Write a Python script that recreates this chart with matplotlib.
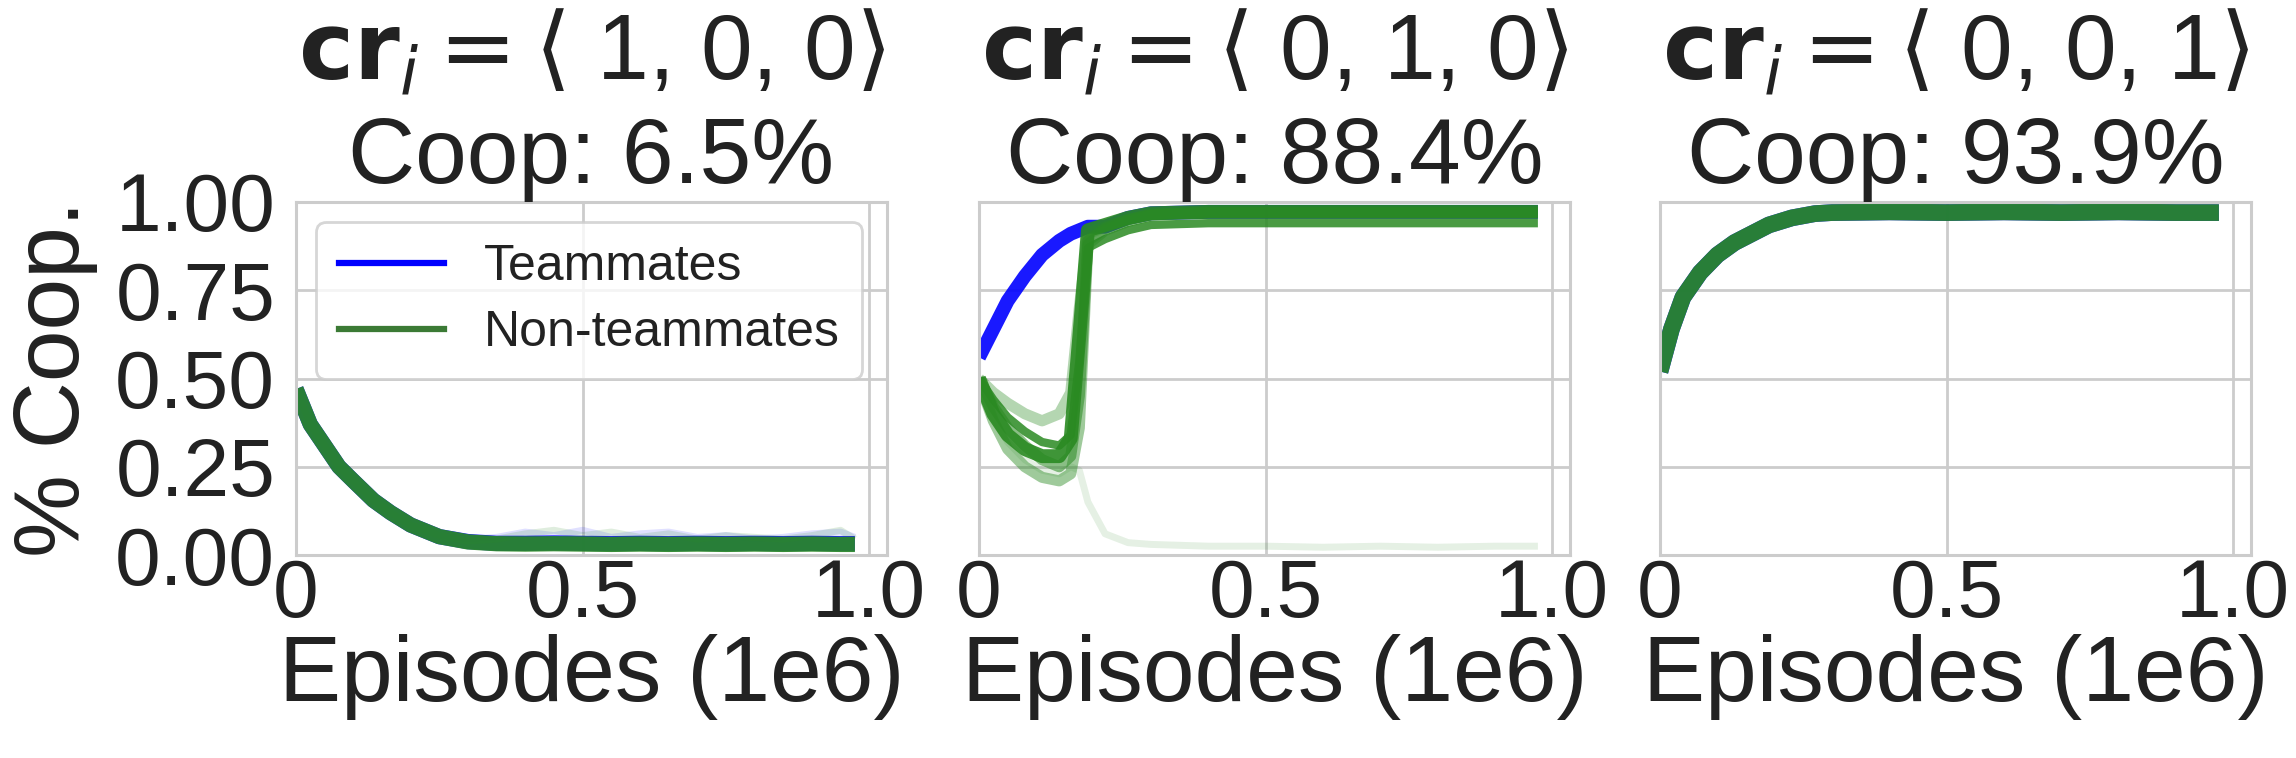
"""
Cooperation curves for three credit-assignment settings.
Teammates vs non-teammates, fraction of cooperative actions over training.
"""
import numpy as np
import matplotlib
matplotlib.use("Agg")
import matplotlib.pyplot as plt
from matplotlib.lines import Line2D

plt.rcParams['font.family'] = ['Liberation Sans', 'DejaVu Sans']
plt.rcParams['mathtext.fontset'] = 'dejavusans'

# ---- data (x in 1e6 episodes) ----
titles = [r'$\mathbf{cr}_i = \langle$ 1, 0, 0$\rangle$',
          r'$\mathbf{cr}_i = \langle$ 0, 1, 0$\rangle$',
          r'$\mathbf{cr}_i = \langle$ 0, 0, 1$\rangle$']
coop_pct = [6.5, 88.4, 93.9]
xtick_vals = [0, 0.5, 1.0]
xtick_labels = ['0', '0.5', '1.0']
ytick_vals = [0.0, 0.25, 0.5, 0.75, 1.0]

# panel 1: <1,0,0>
x1 = [0, 0.025, 0.05, 0.075, 0.1, 0.135, 0.165, 0.2, 0.25, 0.3, 0.35, 0.4,
      0.45, 0.5, 0.55, 0.6, 0.65, 0.7, 0.75, 0.8, 0.85, 0.9, 0.95, 0.975]
team1 = [0.47, 0.37, 0.31, 0.25, 0.21, 0.155, 0.12, 0.085, 0.052, 0.038, 0.033, 0.033,
         0.034, 0.033, 0.032, 0.033, 0.032, 0.033, 0.032, 0.033, 0.032, 0.033, 0.032, 0.032]
team1_noisy = [0.47, 0.37, 0.31, 0.25, 0.21, 0.155, 0.12, 0.085, 0.055, 0.045, 0.05, 0.065,
               0.055, 0.07, 0.05, 0.06, 0.065, 0.05, 0.055, 0.045, 0.05, 0.06, 0.065, 0.05]
nonteam1 = [0.47, 0.37, 0.31, 0.25, 0.21, 0.155, 0.12, 0.085, 0.052, 0.037, 0.032, 0.031,
            0.032, 0.031, 0.03, 0.031, 0.03, 0.031, 0.03, 0.031, 0.03, 0.031, 0.03, 0.03]
nonteam1_noisy = [0.47, 0.37, 0.31, 0.25, 0.21, 0.155, 0.12, 0.085, 0.055, 0.04, 0.045, 0.06,
                  0.07, 0.055, 0.065, 0.05, 0.06, 0.045, 0.055, 0.05, 0.045, 0.055, 0.07, 0.045]

# panel 2: <0,1,0>
x2 = [0, 0.025, 0.05, 0.08, 0.11, 0.14, 0.16, 0.175, 0.19, 0.22, 0.26, 0.3,
      0.4, 0.5, 0.6, 0.7, 0.8, 0.9, 0.975]
team2 = [0.56, 0.64, 0.72, 0.79, 0.85, 0.89, 0.91, 0.92, 0.93, 0.93, 0.955, 0.968,
         0.972, 0.972, 0.972, 0.972, 0.972, 0.972, 0.972]
nonteam2_a = [0.50, 0.40, 0.34, 0.30, 0.28, 0.28, 0.33, 0.62, 0.92, 0.935, 0.955, 0.968,
              0.972, 0.972, 0.972, 0.972, 0.972, 0.972, 0.972]
nonteam2_b = [0.50, 0.44, 0.39, 0.35, 0.32, 0.31, 0.34, 0.55, 0.87, 0.895, 0.92, 0.935,
              0.94, 0.94, 0.94, 0.94, 0.94, 0.94, 0.94]
nonteam2_c = [0.50, 0.42, 0.36, 0.31, 0.27, 0.25, 0.28, 0.45, 0.89, 0.925, 0.95, 0.965,
              0.972, 0.972, 0.972, 0.972, 0.972, 0.972, 0.972]
nonteam2_d = [0.49, 0.38, 0.30, 0.25, 0.22, 0.21, 0.23, 0.36, 0.88, 0.92, 0.945, 0.962,
              0.97, 0.97, 0.97, 0.97, 0.97, 0.97, 0.97]
nonteam2_e = [0.50, 0.46, 0.43, 0.40, 0.38, 0.40, 0.46, 0.70, 0.91, 0.93, 0.95, 0.965,
              0.97, 0.97, 0.97, 0.97, 0.97, 0.97, 0.97]
nonteam2_low = [0.48, 0.39, 0.32, 0.27, 0.24, 0.23, 0.25, 0.24, 0.15, 0.06, 0.035, 0.03,
                0.025, 0.025, 0.022, 0.025, 0.022, 0.025, 0.025]

# panel 3: <0,0,1>
x3 = [0, 0.02, 0.04, 0.07, 0.1, 0.13, 0.16, 0.19, 0.23, 0.27, 0.3, 0.4,
      0.5, 0.6, 0.7, 0.8, 0.9, 0.975]
team3 = [0.52, 0.64, 0.73, 0.80, 0.85, 0.885, 0.91, 0.935, 0.955, 0.967, 0.97, 0.972,
         0.97, 0.972, 0.97, 0.972, 0.97, 0.97]
nonteam3 = [0.52, 0.64, 0.73, 0.80, 0.85, 0.885, 0.91, 0.935, 0.955, 0.967, 0.97, 0.972,
            0.97, 0.972, 0.97, 0.972, 0.97, 0.97]

team_color = '#0000ff'
nonteam_color = '#2a8a22'

# runs per panel: (x, [(values, alpha, lw), ...]) for teammates and non-teammates
team_runs = [
    (x1, [(team1_noisy, 0.12, 5), (team1, 0.9, 11)]),
    (x2, [(team2, 0.9, 10)]),
    (x3, [(team3, 0.9, 12)]),
]
nonteam_runs = [
    (x1, [(nonteam1_noisy, 0.15, 5), (nonteam1, 0.9, 11)]),
    (x2, [(nonteam2_low, 0.12, 5), (nonteam2_b, 0.85, 6), (nonteam2_e, 0.35, 8),
          (nonteam2_d, 0.45, 8), (nonteam2_c, 0.55, 8), (nonteam2_a, 0.9, 10)]),
    (x3, [(nonteam3, 0.9, 12)]),
]


def plot_figure():
    fig = plt.figure(figsize=(22.96, 7.58), dpi=100)
    W, H = 2296.0, 758.0
    lefts = [296, 979, 1660]
    width = 591
    top, bottom = 202, 555
    axes = []
    for i, l in enumerate(lefts):
        ax = fig.add_axes([l / W, (H - bottom) / H, width / W, (bottom - top) / H],
                          sharey=axes[0] if axes else None)
        axes.append(ax)

    for i, ax in enumerate(axes):
        ax.set_facecolor('white')
        ax.grid(True, color='#cccccc', linewidth=2.0)
        ax.set_axisbelow(True)
        for s in ax.spines.values():
            s.set_color('#cccccc')
            s.set_linewidth(2.2)

        xs, runs = team_runs[i]
        for vals, a, lw in runs:
            ax.plot(xs, vals, color=team_color, alpha=a, linewidth=lw,
                    solid_capstyle='butt')
        xs, runs = nonteam_runs[i]
        for vals, a, lw in runs:
            ax.plot(xs, vals, color=nonteam_color, alpha=a, linewidth=lw,
                    solid_capstyle='butt')

        ax.set_xlim(0, 1.031)
        ax.set_ylim(0, 1.0)
        ax.set_xticks(xtick_vals)
        ax.set_xticklabels(xtick_labels)
        ax.set_yticks(ytick_vals)
        ax.tick_params(axis='both', length=0, labelsize=59, colors='#222222')
        ax.tick_params(axis='x', pad=2)
        ax.tick_params(axis='y', pad=15)
        ax.set_xlabel('Episodes (1e6)', fontsize=67, labelpad=0, color='#222222')
        ax.set_title(titles[i] + '\n' + 'Coop: %.1f%%' % coop_pct[i],
                     fontsize=67, pad=6, linespacing=1.25, color='#222222')
        if i > 0:
            plt.setp(ax.get_yticklabels(), visible=False)

    axes[0].set_ylabel('% Coop.', fontsize=67, labelpad=12, color='#222222')

    handles = [Line2D([0], [0], color=team_color, linewidth=4.5),
               Line2D([0], [0], color='#3b7a35', linewidth=4.5)]
    leg = axes[0].legend(handles, ['Teammates', 'Non-teammates'], loc='upper left',
                         fontsize=36, handlelength=2.1, handletextpad=0.8,
                         labelspacing=0.4, borderpad=0.45, borderaxespad=0.4,
                         frameon=True, fancybox=True, framealpha=0.8,
                         edgecolor='#cccccc')
    leg.get_frame().set_linewidth(2.0)
    for t in leg.get_texts():
        t.set_color('#222222')

    fig.savefig('out.png', dpi=100, facecolor='white')


if __name__ == "__main__":
    plot_figure()
